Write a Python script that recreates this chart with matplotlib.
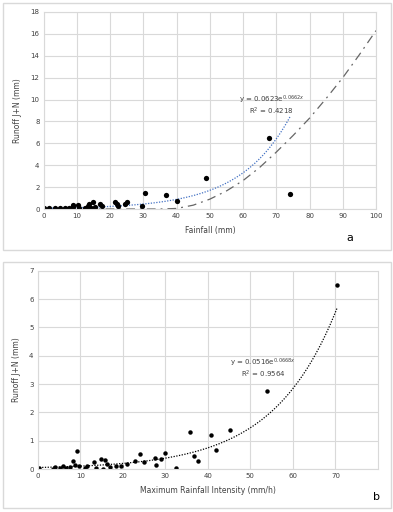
import numpy as np
import matplotlib.pyplot as plt
from matplotlib.patches import Rectangle

# Panel a: rainfall vs runoff
rain = [0, 1.7, 3.4, 4.9, 6.4, 7.6, 8.7, 8.9, 10.4, 10.5, 12.4, 13.2, 13.7, 14.1,
        14.9, 15.4, 17.0, 17.5, 21.5, 22.0, 22.5, 24.5, 25.0, 29.5, 30.5, 36.8,
        40.0, 48.8, 67.8, 74.1]
runoff_a = [0.05, 0.05, 0.05, 0.05, 0.08, 0.08, 0.15, 0.36, 0.36, 0.05, 0.1, 0.3,
            0.5, 0.05, 0.64, 0.15, 0.45, 0.3, 0.6, 0.5, 0.3, 0.5, 0.6, 0.3, 1.43,
            1.25, 0.73, 2.8, 6.5, 1.37]
fit_a = (0.0623, 0.0662)
# dash-dot reference curve
ref_x = [0, 20, 35, 40, 45, 50, 55, 60, 65, 70, 75, 80, 85, 90, 95, 100]
ref_y = [0, 0, 0, 0.05, 0.35, 0.9, 1.65, 2.6, 3.8, 5.2, 6.7, 8.3, 10.1, 12.0, 14.1, 16.3]

# Panel b: max rainfall intensity vs runoff
intensity = [0.4, 3.7, 4.1, 5.2, 6.0, 6.6, 7.6, 8.2, 8.8, 9.3, 9.7, 11.1, 11.6,
             13.3, 13.8, 14.8, 15.4, 15.8, 16.2, 16.9, 18.4, 19.5, 20.9, 22.8,
             24.0, 25.0, 27.5, 27.9, 29.1, 30.0, 32.6, 35.8, 36.8, 37.7, 40.8,
             41.8, 45.3, 53.9, 70.4]
runoff_b = [0.05, 0.0, 0.08, 0.04, 0.1, 0.05, 0.06, 0.27, 0.14, 0.65, 0.1, 0.03,
            0.1, 0.26, 0.05, 0.35, 0.0, 0.32, 0.18, 0.06, 0.12, 0.12, 0.18, 0.27,
            0.54, 0.25, 0.39, 0.15, 0.35, 0.55, 0.05, 1.31, 0.47, 0.28, 1.2,
            0.68, 1.37, 2.77, 6.51]
fit_b = (0.0516, 0.0668)

grid_c = '#d9d9d9'
txt_c = '#404040'

fig = plt.figure(figsize=(3.93, 5.12), dpi=100)
for y0, h in [(262 / 512, 247 / 512), (4 / 512, 246 / 512)]:
    fig.patches.append(Rectangle((3 / 393, y0), 388 / 393, h, transform=fig.transFigure,
                                 fill=False, edgecolor='#d9d9d9', lw=1))

def style(ax):
    ax.grid(True, color=grid_c, lw=0.8)
    ax.set_axisbelow(True)
    for s in ax.spines.values():
        s.set_color(grid_c)
        s.set_linewidth(0.8)
    ax.tick_params(length=0, labelsize=5, colors=txt_c, pad=3)

# top panel
ax1 = fig.add_axes([43.7 / 393, (512 - 209) / 512, 332.3 / 393, 197 / 512])
ax1.plot(ref_x, ref_y, color='#666666', lw=0.9, linestyle=(0, (7, 4, 1.5, 4)))
xf = np.linspace(0, max(rain), 200)
ax1.plot(xf, fit_a[0] * np.exp(fit_a[1] * xf), color='#4472c4', lw=0.9, linestyle=(0, (1, 1.2)))
ax1.plot(rain, runoff_a, 'o', color='black', ms=3.8, mec='none')
ax1.set_xlim(0, 100)
ax1.set_ylim(0, 18)
ax1.set_xticks(range(0, 101, 10))
ax1.set_yticks(range(0, 19, 2))
style(ax1)
ax1.set_xlabel('Fainfall (mm)', fontsize=5.5, color=txt_c, labelpad=5)
ax1.set_ylabel('Runoff J+N (mm)', fontsize=5.5, color=txt_c, labelpad=6)
ax1.text(68.5, 10.0, 'y = 0.0623e$^{0.0662x}$', fontsize=5, color=txt_c, ha='center', va='center')
ax1.text(68.5, 8.95, 'R$^2$ = 0.4218', fontsize=5, color=txt_c, ha='center', va='center')
fig.text(350 / 393, 1 - 238 / 512, 'a', fontsize=8, ha='center', va='center')

# bottom panel
ax2 = fig.add_axes([37.7 / 393, (512 - 469) / 512, 340.3 / 393, 198.3 / 512])
xf = np.linspace(min(intensity), max(intensity), 200)
ax2.plot(xf, fit_b[0] * np.exp(fit_b[1] * xf), color='black', lw=0.9, linestyle=(0, (1, 1.2)))
ax2.plot(intensity, runoff_b, 'o', color='black', ms=3.2, mec='none')
ax2.set_xlim(0, 80)
ax2.set_ylim(0, 7)
ax2.set_xticks(range(0, 80, 10))
ax2.set_yticks(range(0, 8))
style(ax2)
ax2.set_xlabel('Maximum Rainfall Intensity (mm/h)', fontsize=5.5, color=txt_c, labelpad=5)
ax2.set_ylabel('Runoff J+N (mm)', fontsize=5.5, color=txt_c, labelpad=6)
ax2.text(53, 3.74, 'y = 0.0516e$^{0.0668x}$', fontsize=5, color=txt_c, ha='center', va='center')
ax2.text(53, 3.33, 'R$^2$ = 0.9564', fontsize=5, color=txt_c, ha='center', va='center')
fig.text(377 / 393, 1 - 497 / 512, 'b', fontsize=8, ha='center', va='center')

fig.savefig('out.png', dpi=100)
